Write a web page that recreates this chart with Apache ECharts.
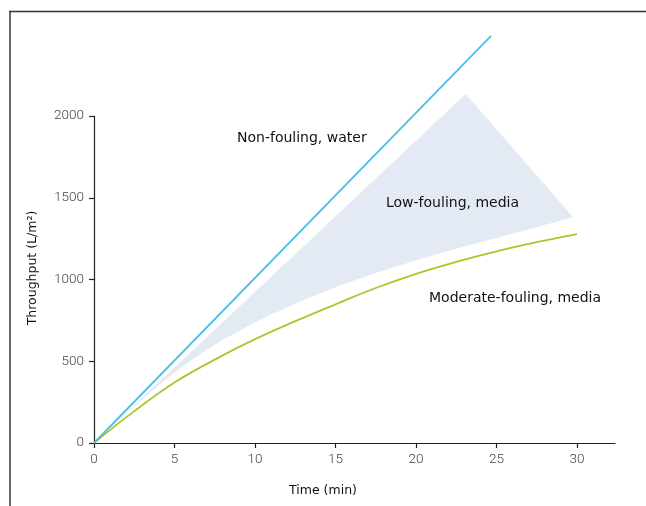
<!DOCTYPE html>
<html>
<head>
<meta charset="utf-8">
<script src="https://cdn.jsdelivr.net/npm/echarts@6/dist/echarts.min.js"></script>
<style>
html,body{margin:0;padding:0;background:#fff;}
#chart{width:646px;height:506px;}
</style>
</head>
<body>
<div id="chart"></div>
<script>
// Data
var xTicks = [0, 5, 10, 15, 20, 25, 30];
var yTicks = [0, 500, 1000, 1500, 2000];
var waterLine = [[0, 0], [24.66, 2490]];
var moderateLine = [[0, 0], [2.5, 195], [5, 370], [7.5, 510], [10, 635], [12.5, 745], [15, 848], [17.5, 948], [20, 1035], [22.5, 1108], [25, 1172], [27.5, 1228], [30, 1278]];
var lowUpper = [[0, 0], [23.09, 2135], [29.75, 1382]];
var lowLower = [[29.75, 1382], [27.5, 1320], [25, 1254], [22.5, 1188], [20, 1117], [17.5, 1040], [15, 952], [12.5, 852], [10, 737], [7.5, 600], [5, 430], [2.5, 225], [0, 0]];
var labels = ["Non-fouling, water", "Low-fouling, media", "Moderate-fouling, media"];

var chart = echarts.init(document.getElementById('chart'), null, {renderer: 'canvas'});
var axisColor = '#222';
var tickFont = {fontFamily: 'Roboto', fontSize: 13.5, color: '#444', fontWeight: 300};
var noteFont = '400 14px "DejaVu Sans"';
var titleFont = '400 12.5px "DejaVu Sans"';

// Catmull-Rom smoothing of pixel points (rendering only)
function smoothPts(p) {
  var out = [];
  for (var i = 0; i < p.length - 1; i++) {
    var p0 = p[Math.max(0, i - 1)], p1 = p[i], p2 = p[i + 1], p3 = p[Math.min(p.length - 1, i + 2)];
    for (var s = 0; s < 8; s++) {
      var t = s / 8, t2 = t * t, t3 = t2 * t;
      out.push([0, 1].map(function (k) {
        return 0.5 * ((2 * p1[k]) + (-p0[k] + p2[k]) * t + (2 * p0[k] - 5 * p1[k] + 4 * p2[k] - p3[k]) * t2 + (-p0[k] + 3 * p1[k] - 3 * p2[k] + p3[k]) * t3);
      }));
    }
  }
  out.push(p[p.length - 1]);
  return out;
}

var option = {
  animation: false,
  backgroundColor: '#fff',
  grid: {left: 94, right: 31, top: 116, bottom: 63, containLabel: false},
  xAxis: {
    type: 'value', min: 0, max: 32.36,
    splitLine: {show: false},
    axisLine: {show: true, lineStyle: {color: axisColor, width: 1.2}},
    axisTick: {show: true, length: 5, lineStyle: {color: axisColor, width: 1.2}, customValues: xTicks},
    axisLabel: Object.assign({margin: 10, customValues: xTicks, formatter: function (v) { return String(v); }}, tickFont)
  },
  yAxis: {
    type: 'value', min: 0, max: 2000, interval: 500,
    splitLine: {show: false},
    axisLine: {show: true, lineStyle: {color: axisColor, width: 1.2}},
    axisTick: {show: true, length: 5, lineStyle: {color: axisColor, width: 1.2}, customValues: yTicks},
    axisLabel: Object.assign({margin: 10, customValues: yTicks, formatter: function (v) { return String(v); }}, tickFont)
  },
  series: [
    {
      type: 'custom',
      clip: false,
      z: 1,
      data: [0],
      renderItem: function (params, api) {
        var up = lowUpper.map(function (p) { return api.coord(p); });
        var low = smoothPts(lowLower.map(function (p) { return api.coord(p); }));
        return {type: 'polygon', shape: {points: up.concat(low.slice(1))}, style: {fill: '#e4eaf3', stroke: null}};
      }
    },
    {
      type: 'line', data: moderateLine, smooth: 0.4, showSymbol: false, clip: false, z: 3,
      lineStyle: {color: '#b3c22c', width: 1.8}
    },
    {
      type: 'line', data: waterLine, showSymbol: false, clip: false, z: 4,
      lineStyle: {color: '#4bbfeb', width: 1.8}
    }
  ],
  graphic: [
    {type: 'line', z: 100, shape: {x1: 9, y1: 11.5, x2: 646, y2: 11.5}, style: {stroke: '#333', lineWidth: 1.5}, silent: true},
    {type: 'line', z: 100, shape: {x1: 10, y1: 11, x2: 10, y2: 506}, style: {stroke: '#333', lineWidth: 1.5}, silent: true},
    {type: 'text', z: 100, x: 237, y: 138, style: {text: labels[0], font: noteFont, fill: '#111', textVerticalAlign: 'middle'}},
    {type: 'text', z: 100, x: 386, y: 203, style: {text: labels[1], font: noteFont, fill: '#111', textVerticalAlign: 'middle'}},
    {type: 'text', z: 100, x: 429, y: 298, style: {text: labels[2], font: noteFont, fill: '#111', textVerticalAlign: 'middle'}},
    {type: 'text', z: 100, x: 323, y: 491, style: {text: 'Time (min)', font: titleFont, fill: '#111', textAlign: 'center', textVerticalAlign: 'middle'}},
    {type: 'text', z: 100, x: 33, y: 268, rotation: Math.PI / 2, style: {text: 'Throughput (L/m²)', font: titleFont, fill: '#111', textAlign: 'center', textVerticalAlign: 'middle'}}
  ]
};
chart.setOption(option);
</script>
</body>
</html>
